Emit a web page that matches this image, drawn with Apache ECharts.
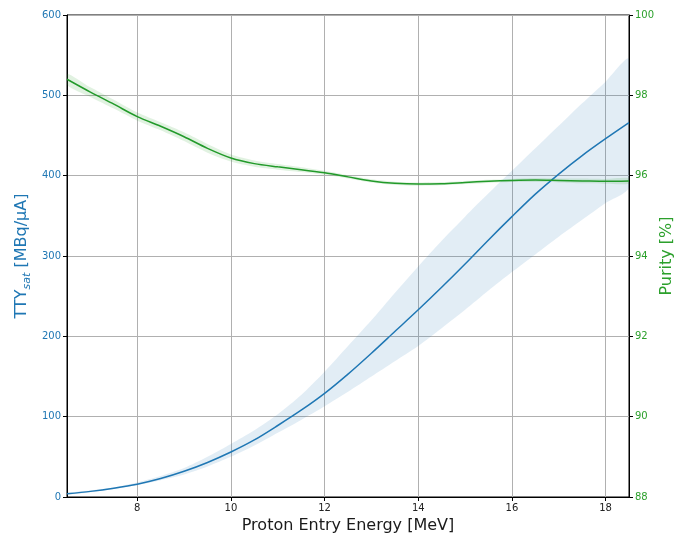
<!DOCTYPE html>
<html>
<head>
<meta charset="utf-8">
<script src="https://cdn.jsdelivr.net/npm/echarts@6/dist/echarts.min.js"></script>
<style>html,body{margin:0;padding:0;background:#fff}#c{width:686px;height:539px}</style>
</head>
<body>
<div id="c"></div>
<script>
const energy = [6.5,7,7.5,8,8.5,9,9.5,10,10.5,11,11.5,12,12.5,13,13.5,14,14.5,15,15.5,16,16.5,17,17.5,18,18.5];
const ttyMid  = [4,7,11,16,23,32,43,56,71,89,108,129,153,179,206,233,261,290,320,349,377,402,425,446,466];
const ttyHigh = [5,8,12,18,26,36,50,66,83,103,127,156,188,220,254,287,319,349,378,406,434,462,490,517,545];
const ttyLow  = [3,6,10,15,21,28,38,50,64,80,96,113,131,150,169,188,210,233,257,280,302,324,345,366,386];
const purityMid  = [98.40,98.08,97.78,97.47,97.23,96.97,96.68,96.44,96.30,96.22,96.15,96.07,95.97,95.87,95.81,95.79,95.80,95.83,95.86,95.88,95.89,95.88,95.87,95.86,95.87];
const purityHigh = [98.54,98.20,97.89,97.57,97.33,97.08,96.79,96.53,96.38,96.29,96.21,96.12,96.01,95.91,95.85,95.83,95.84,95.87,95.90,95.92,95.94,95.93,95.93,95.92,95.94];
const purityLow  = [98.26,97.96,97.67,97.37,97.13,96.86,96.57,96.35,96.22,96.15,96.09,96.02,95.93,95.83,95.77,95.75,95.76,95.79,95.82,95.84,95.84,95.83,95.81,95.80,95.80];
const leftTicks = [0,100,200,300,400,500,600];
const rightTicks = [88,90,92,94,96,98,100];

const BLUE = '#1f77b4', GREEN = '#2ca02c', GREEN_LINE = '#229a2a';
const pairs = (ys) => energy.map((x, i) => [x, ys[i]]);
const bandData = (hi, lo) => energy.map((x, i) => [x, lo[i], hi[i]]);

function bandSeries(hi, lo, yIdx, fill, z) {
  return {
    type: 'custom', yAxisIndex: yIdx, clip: true, silent: true, z: z,
    data: bandData(hi, lo),
    encode: { x: 0, y: [1, 2] },
    renderItem: function (params, api) {
      if (params.dataIndex !== 0) return null;
      const n = energy.length;
      const top = [], bottom = [];
      for (let i = 0; i < n; i++) {
        top.push(api.coord([energy[i], hi[i]]));
        bottom.push(api.coord([energy[i], lo[i]]));
      }
      const pts = top.concat(bottom.reverse());
      return {
        type: 'polygon',
        shape: { points: pts, smooth: 0.25 },
        style: { fill: fill, stroke: null }
      };
    }
  };
}

const chart = echarts.init(document.getElementById('c'));
chart.setOption({
  animation: false,
  backgroundColor: '#fff',
  textStyle: { fontFamily: 'DejaVu Sans' },
  grid: { left: 67, right: 57, top: 15, bottom: 42, show: true, borderColor: '#000', borderWidth: 1, backgroundColor: 'transparent' },
  xAxis: {
    type: 'value', min: 6.5, max: 18.5, splitNumber: 6,
    name: 'Proton Entry Energy [MeV]', nameLocation: 'middle', nameGap: 21, nameMoveOverlap: false,
    nameTextStyle: { fontSize: 16, color: '#1a1a1a', fontFamily: 'DejaVu Sans' },
    axisLine: { show: true, lineStyle: { color: '#000', width: 1 } },
    axisTick: { show: true, length: 4, lineStyle: { color: '#000' } },
    axisLabel: { fontSize: 10, color: '#222', margin: 6, showMinLabel: false, showMaxLabel: false, fontFamily: 'DejaVu Sans' },
    splitLine: { show: true, lineStyle: { color: '#b0b0b0', width: 1 } }
  },
  yAxis: [{
    type: 'value', min: leftTicks[0], max: leftTicks[leftTicks.length - 1], interval: leftTicks[1] - leftTicks[0],
    position: 'left',
    name: '{m|TTY}{s|sat}{m| [MBq/μA]}', nameLocation: 'middle', nameGap: 34, nameRotate: 90, nameMoveOverlap: false,
    nameTextStyle: {
      color: BLUE, fontSize: 16, fontFamily: 'DejaVu Sans',
      rich: {
        m: { fontSize: 16, color: BLUE, fontFamily: 'DejaVu Sans', lineHeight: 22, verticalAlign: 'middle' },
        s: { fontSize: 11, color: BLUE, fontStyle: 'italic', fontFamily: 'DejaVu Sans', lineHeight: 11, verticalAlign: 'bottom' }
      }
    },
    axisLine: { show: true, lineStyle: { color: '#000', width: 1 } },
    axisTick: { show: true, length: 4, lineStyle: { color: '#000' } },
    axisLabel: { fontSize: 10, color: BLUE, margin: 6, fontFamily: 'DejaVu Sans' },
    splitLine: { show: true, lineStyle: { color: '#b0b0b0', width: 1 } }
  }, {
    type: 'value', min: rightTicks[0], max: rightTicks[rightTicks.length - 1], interval: rightTicks[1] - rightTicks[0],
    position: 'right',
    name: 'Purity [%]', nameLocation: 'middle', nameGap: 30, nameRotate: 90, nameMoveOverlap: false,
    nameTextStyle: { color: GREEN, fontSize: 16, fontFamily: 'DejaVu Sans' },
    axisLine: { show: true, lineStyle: { color: '#000', width: 1 } },
    axisTick: { show: true, length: 4, lineStyle: { color: '#000' } },
    axisLabel: { fontSize: 10, color: GREEN, margin: 6, fontFamily: 'DejaVu Sans' },
    splitLine: { show: false }
  }],
  series: [
    bandSeries(ttyHigh, ttyLow, 0, 'rgba(31,119,180,0.13)', 1),
    bandSeries(purityHigh, purityLow, 1, 'rgba(44,160,44,0.14)', 2),
    { type: 'line', yAxisIndex: 0, data: pairs(ttyMid), smooth: 0.3, symbol: 'none', lineStyle: { color: BLUE, width: 1.5 }, z: 3 },
    { type: 'line', yAxisIndex: 1, data: pairs(purityMid), smooth: 0.3, symbol: 'none', lineStyle: { color: GREEN_LINE, width: 1.5 }, z: 4 }
  ]
});
</script>
</body>
</html>
